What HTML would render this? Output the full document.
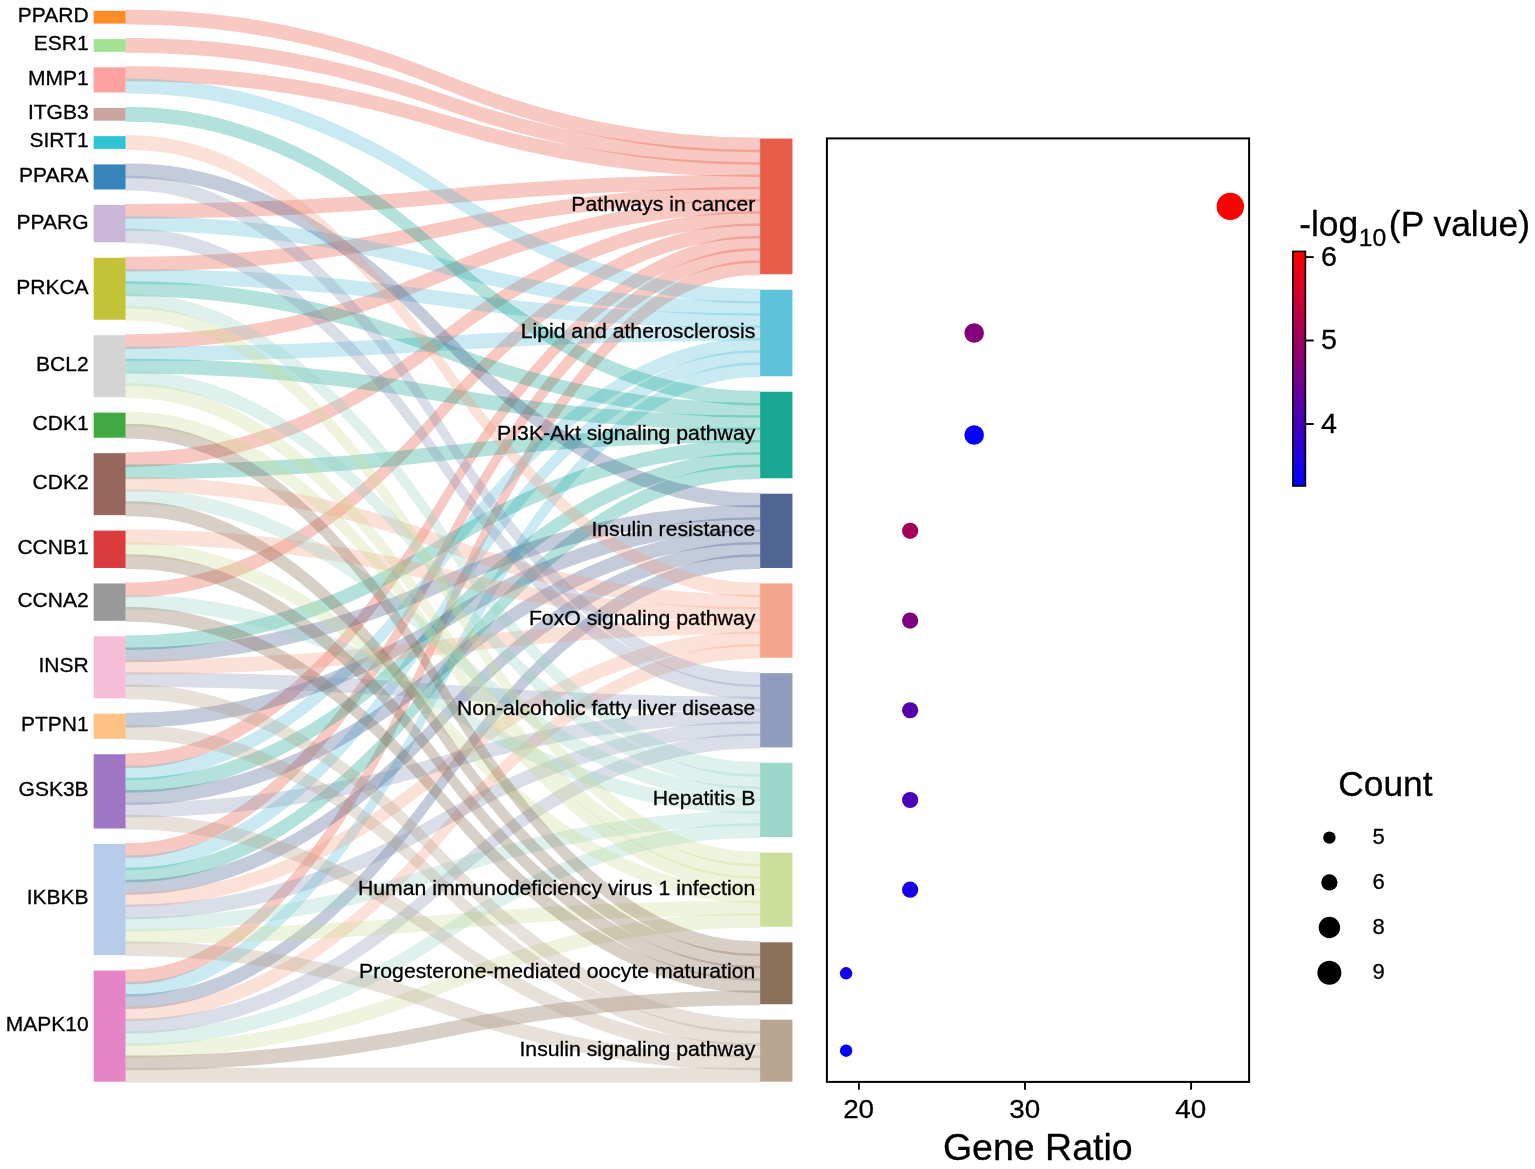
<!DOCTYPE html>
<html lang="en"><head><meta charset="utf-8"><title>Sankey dot plot</title>
<style>html,body{margin:0;padding:0;background:#fff}body{width:1535px;height:1169px;overflow:hidden}svg{display:block}text{font-family:"Liberation Sans",Arial,Helvetica,sans-serif;fill:#000;stroke:#000;stroke-width:.3px;stroke-linejoin:round}</style></head><body>
<svg width="1535" height="1169" viewBox="0 0 1535 1169">
<defs><linearGradient id="cb" x1="0" y1="1" x2="0" y2="0"><stop offset="0" stop-color="#0000ff"/><stop offset="1" stop-color="#ff0000"/></linearGradient><filter id="soft" filterUnits="userSpaceOnUse" x="0" y="0" width="1535" height="1169" color-interpolation-filters="sRGB"><feGaussianBlur stdDeviation="0.55"/></filter><clipPath id="lc"><rect x="125.3" y="0" width="635.1" height="1169"/></clipPath></defs>
<rect x="0" y="0" width="1535" height="1169" fill="#fff"/>
<g filter="url(#soft)">
<g stroke-width="3" stroke-linejoin="round" clip-path="url(#lc)">
<g fill="#E64B35" stroke="#E64B35">
<path opacity="0.3" d="M119.3,11.31H131.65Q287.25,11.31 442.85,75.19Q598.45,139.07 754.05,139.07H766.4V150.87H754.05Q598.45,150.87 442.85,86.99Q287.25,23.11 131.65,23.11H119.3Z"/>
<path opacity="0.3" d="M119.3,39.57H131.65Q287.25,39.57 442.85,95.46Q598.45,151.36 754.05,151.36H766.4V163.16H754.05Q598.45,163.16 442.85,107.26Q287.25,51.37 131.65,51.37H119.3Z"/>
<path opacity="0.3" d="M119.3,67.83H131.65Q287.25,67.83 442.85,115.74Q598.45,163.65 754.05,163.65H766.4V175.45H754.05Q598.45,175.45 442.85,127.54Q287.25,79.63 131.65,79.63H119.3Z"/>
<path opacity="0.3" d="M119.3,205.45H131.65Q287.25,205.45 442.85,190.69Q598.45,175.94 754.05,175.94H766.4V187.74H754.05Q598.45,187.74 442.85,202.49Q287.25,217.25 131.65,217.25H119.3Z"/>
<path opacity="0.3" d="M119.3,258.29H131.65Q287.25,258.29 442.85,223.26Q598.45,188.23 754.05,188.23H766.4V200.03H754.05Q598.45,200.03 442.85,235.06Q287.25,270.09 131.65,270.09H119.3Z"/>
<path opacity="0.3" d="M119.3,335.71H131.65Q287.25,335.71 442.85,268.11Q598.45,200.52 754.05,200.52H766.4V212.32H754.05Q598.45,212.32 442.85,279.91Q287.25,347.51 131.65,347.51H119.3Z"/>
<path opacity="0.3" d="M119.3,453.68H131.65Q287.25,453.68 442.85,333.24Q598.45,212.81 754.05,212.81H766.4V224.61H754.05Q598.45,224.61 442.85,345.04Q287.25,465.48 131.65,465.48H119.3Z"/>
<path opacity="0.3" d="M119.3,583.94H131.65Q287.25,583.94 442.85,404.52Q598.45,225.1 754.05,225.1H766.4V236.9H754.05Q598.45,236.9 442.85,416.32Q287.25,595.74 131.65,595.74H119.3Z"/>
<path opacity="0.3" d="M119.3,754.75H131.65Q287.25,754.75 442.85,496.07Q598.45,237.39 754.05,237.39H766.4V249.19H754.05Q598.45,249.19 442.85,507.87Q287.25,766.55 131.65,766.55H119.3Z"/>
<path opacity="0.3" d="M119.3,844.46H131.65Q287.25,844.46 442.85,547.07Q598.45,249.68 754.05,249.68H766.4V261.48H754.05Q598.45,261.48 442.85,558.87Q287.25,856.26 131.65,856.26H119.3Z"/>
<path opacity="0.3" d="M119.3,971.04H131.65Q287.25,971.04 442.85,616.5Q598.45,261.97 754.05,261.97H766.4V273.77H754.05Q598.45,273.77 442.85,628.3Q287.25,982.84 131.65,982.84H119.3Z"/>
</g>
<g fill="#4DBBD5" stroke="#4DBBD5">
<path opacity="0.3" d="M119.3,80.12H131.65Q287.25,80.12 442.85,185.17Q598.45,290.23 754.05,290.23H766.4V302.03H754.05Q598.45,302.03 442.85,196.97Q287.25,91.92 131.65,91.92H119.3Z"/>
<path opacity="0.3" d="M119.3,217.74H131.65Q287.25,217.74 442.85,260.13Q598.45,302.52 754.05,302.52H766.4V314.32H754.05Q598.45,314.32 442.85,271.93Q287.25,229.54 131.65,229.54H119.3Z"/>
<path opacity="0.3" d="M119.3,270.58H131.65Q287.25,270.58 442.85,292.69Q598.45,314.81 754.05,314.81H766.4V326.61H754.05Q598.45,326.61 442.85,304.49Q287.25,282.38 131.65,282.38H119.3Z"/>
<path opacity="0.3" d="M119.3,348H131.65Q287.25,348 442.85,337.55Q598.45,327.1 754.05,327.1H766.4V338.9H754.05Q598.45,338.9 442.85,349.35Q287.25,359.8 131.65,359.8H119.3Z"/>
<path opacity="0.3" d="M119.3,767.04H131.65Q287.25,767.04 442.85,553.21Q598.45,339.39 754.05,339.39H766.4V351.19H754.05Q598.45,351.19 442.85,565.01Q287.25,778.84 131.65,778.84H119.3Z"/>
<path opacity="0.3" d="M119.3,856.75H131.65Q287.25,856.75 442.85,604.21Q598.45,351.68 754.05,351.68H766.4V363.48H754.05Q598.45,363.48 442.85,616.01Q287.25,868.55 131.65,868.55H119.3Z"/>
<path opacity="0.3" d="M119.3,983.33H131.65Q287.25,983.33 442.85,673.65Q598.45,363.97 754.05,363.97H766.4V375.77H754.05Q598.45,375.77 442.85,685.45Q287.25,995.13 131.65,995.13H119.3Z"/>
</g>
<g fill="#00A087" stroke="#00A087">
<path opacity="0.3" d="M119.3,108.38H131.65Q287.25,108.38 442.85,250.3Q598.45,392.23 754.05,392.23H766.4V404.03H754.05Q598.45,404.03 442.85,262.1Q287.25,120.18 131.65,120.18H119.3Z"/>
<path opacity="0.3" d="M119.3,282.87H131.65Q287.25,282.87 442.85,343.69Q598.45,404.52 754.05,404.52H766.4V416.32H754.05Q598.45,416.32 442.85,355.49Q287.25,294.67 131.65,294.67H119.3Z"/>
<path opacity="0.3" d="M119.3,360.29H131.65Q287.25,360.29 442.85,388.55Q598.45,416.81 754.05,416.81H766.4V428.61H754.05Q598.45,428.61 442.85,400.35Q287.25,372.09 131.65,372.09H119.3Z"/>
<path opacity="0.3" d="M119.3,465.97H131.65Q287.25,465.97 442.85,447.53Q598.45,429.1 754.05,429.1H766.4V440.9H754.05Q598.45,440.9 442.85,459.33Q287.25,477.77 131.65,477.77H119.3Z"/>
<path opacity="0.3" d="M119.3,636.78H131.65Q287.25,636.78 442.85,539.08Q598.45,441.39 754.05,441.39H766.4V453.19H754.05Q598.45,453.19 442.85,550.88Q287.25,648.58 131.65,648.58H119.3Z"/>
<path opacity="0.3" d="M119.3,779.33H131.65Q287.25,779.33 442.85,616.5Q598.45,453.68 754.05,453.68H766.4V465.48H754.05Q598.45,465.48 442.85,628.3Q287.25,791.13 131.65,791.13H119.3Z"/>
<path opacity="0.3" d="M119.3,869.04H131.65Q287.25,869.04 442.85,667.5Q598.45,465.97 754.05,465.97H766.4V477.77H754.05Q598.45,477.77 442.85,679.3Q287.25,880.84 131.65,880.84H119.3Z"/>
</g>
<g fill="#3C5488" stroke="#3C5488">
<path opacity="0.3" d="M119.3,164.9H131.65Q287.25,164.9 442.85,329.56Q598.45,494.23 754.05,494.23H766.4V506.03H754.05Q598.45,506.03 442.85,341.36Q287.25,176.7 131.65,176.7H119.3Z"/>
<path opacity="0.3" d="M119.3,649.07H131.65Q287.25,649.07 442.85,577.79Q598.45,506.52 754.05,506.52H766.4V518.32H754.05Q598.45,518.32 442.85,589.59Q287.25,660.87 131.65,660.87H119.3Z"/>
<path opacity="0.3" d="M119.3,714.2H131.65Q287.25,714.2 442.85,616.5Q598.45,518.81 754.05,518.81H766.4V530.61H754.05Q598.45,530.61 442.85,628.3Q287.25,726 131.65,726H119.3Z"/>
<path opacity="0.3" d="M119.3,791.62H131.65Q287.25,791.62 442.85,661.36Q598.45,531.1 754.05,531.1H766.4V542.9H754.05Q598.45,542.9 442.85,673.16Q287.25,803.42 131.65,803.42H119.3Z"/>
<path opacity="0.3" d="M119.3,881.33H131.65Q287.25,881.33 442.85,712.36Q598.45,543.39 754.05,543.39H766.4V555.19H754.05Q598.45,555.19 442.85,724.16Q287.25,893.13 131.65,893.13H119.3Z"/>
<path opacity="0.3" d="M119.3,995.62H131.65Q287.25,995.62 442.85,775.65Q598.45,555.68 754.05,555.68H766.4V567.48H754.05Q598.45,567.48 442.85,787.45Q287.25,1007.42 131.65,1007.42H119.3Z"/>
</g>
<g fill="#F39B7F" stroke="#F39B7F">
<path opacity="0.3" d="M119.3,136.64H131.65Q287.25,136.64 442.85,360.29Q598.45,583.94 754.05,583.94H766.4V595.74H754.05Q598.45,595.74 442.85,372.09Q287.25,148.44 131.65,148.44H119.3Z"/>
<path opacity="0.3" d="M119.3,478.26H131.65Q287.25,478.26 442.85,537.24Q598.45,596.23 754.05,596.23H766.4V608.03H754.05Q598.45,608.03 442.85,549.04Q287.25,490.06 131.65,490.06H119.3Z"/>
<path opacity="0.3" d="M119.3,531.1H131.65Q287.25,531.1 442.85,569.81Q598.45,608.52 754.05,608.52H766.4V620.32H754.05Q598.45,620.32 442.85,581.61Q287.25,542.9 131.65,542.9H119.3Z"/>
<path opacity="0.3" d="M119.3,661.36H131.65Q287.25,661.36 442.85,641.08Q598.45,620.81 754.05,620.81H766.4V632.61H754.05Q598.45,632.61 442.85,652.88Q287.25,673.16 131.65,673.16H119.3Z"/>
<path opacity="0.3" d="M119.3,893.62H131.65Q287.25,893.62 442.85,763.36Q598.45,633.1 754.05,633.1H766.4V644.9H754.05Q598.45,644.9 442.85,775.16Q287.25,905.42 131.65,905.42H119.3Z"/>
<path opacity="0.3" d="M119.3,1007.91H131.65Q287.25,1007.91 442.85,826.65Q598.45,645.39 754.05,645.39H766.4V657.19H754.05Q598.45,657.19 442.85,838.45Q287.25,1019.71 131.65,1019.71H119.3Z"/>
</g>
<g fill="#8491B4" stroke="#8491B4">
<path opacity="0.3" d="M119.3,177.19H131.65Q287.25,177.19 442.85,425.42Q598.45,673.65 754.05,673.65H766.4V685.45H754.05Q598.45,685.45 442.85,437.22Q287.25,188.99 131.65,188.99H119.3Z"/>
<path opacity="0.3" d="M119.3,230.03H131.65Q287.25,230.03 442.85,457.98Q598.45,685.94 754.05,685.94H766.4V697.74H754.05Q598.45,697.74 442.85,469.78Q287.25,241.83 131.65,241.83H119.3Z"/>
<path opacity="0.3" d="M119.3,673.65H131.65Q287.25,673.65 442.85,685.94Q598.45,698.23 754.05,698.23H766.4V710.03H754.05Q598.45,710.03 442.85,697.74Q287.25,685.45 131.65,685.45H119.3Z"/>
<path opacity="0.3" d="M119.3,803.91H131.65Q287.25,803.91 442.85,757.21Q598.45,710.52 754.05,710.52H766.4V722.32H754.05Q598.45,722.32 442.85,769.01Q287.25,815.71 131.65,815.71H119.3Z"/>
<path opacity="0.3" d="M119.3,905.91H131.65Q287.25,905.91 442.85,814.36Q598.45,722.81 754.05,722.81H766.4V734.61H754.05Q598.45,734.61 442.85,826.16Q287.25,917.71 131.65,917.71H119.3Z"/>
<path opacity="0.3" d="M119.3,1020.2H131.65Q287.25,1020.2 442.85,877.65Q598.45,735.1 754.05,735.1H766.4V746.9H754.05Q598.45,746.9 442.85,889.45Q287.25,1032 131.65,1032H119.3Z"/>
</g>
<g fill="#91D1C2" stroke="#91D1C2">
<path opacity="0.3" d="M119.3,295.16H131.65Q287.25,295.16 442.85,529.26Q598.45,763.36 754.05,763.36H766.4V775.16H754.05Q598.45,775.16 442.85,541.06Q287.25,306.96 131.65,306.96H119.3Z"/>
<path opacity="0.3" d="M119.3,372.58H131.65Q287.25,372.58 442.85,574.11Q598.45,775.65 754.05,775.65H766.4V787.45H754.05Q598.45,787.45 442.85,585.91Q287.25,384.38 131.65,384.38H119.3Z"/>
<path opacity="0.3" d="M119.3,490.55H131.65Q287.25,490.55 442.85,639.24Q598.45,787.94 754.05,787.94H766.4V799.74H754.05Q598.45,799.74 442.85,651.04Q287.25,502.35 131.65,502.35H119.3Z"/>
<path opacity="0.3" d="M119.3,596.23H131.65Q287.25,596.23 442.85,698.23Q598.45,800.23 754.05,800.23H766.4V812.03H754.05Q598.45,812.03 442.85,710.03Q287.25,608.03 131.65,608.03H119.3Z"/>
<path opacity="0.3" d="M119.3,918.2H131.65Q287.25,918.2 442.85,865.36Q598.45,812.52 754.05,812.52H766.4V824.32H754.05Q598.45,824.32 442.85,877.16Q287.25,930 131.65,930H119.3Z"/>
<path opacity="0.3" d="M119.3,1032.49H131.65Q287.25,1032.49 442.85,928.65Q598.45,824.81 754.05,824.81H766.4V836.61H754.05Q598.45,836.61 442.85,940.45Q287.25,1044.29 131.65,1044.29H119.3Z"/>
</g>
<g fill="#C7DB8F" stroke="#C7DB8F">
<path opacity="0.3" d="M119.3,307.45H131.65Q287.25,307.45 442.85,580.26Q598.45,853.07 754.05,853.07H766.4V864.87H754.05Q598.45,864.87 442.85,592.06Q287.25,319.25 131.65,319.25H119.3Z"/>
<path opacity="0.3" d="M119.3,384.87H131.65Q287.25,384.87 442.85,625.11Q598.45,865.36 754.05,865.36H766.4V877.16H754.05Q598.45,877.16 442.85,636.91Q287.25,396.67 131.65,396.67H119.3Z"/>
<path opacity="0.3" d="M119.3,413.13H131.65Q287.25,413.13 442.85,645.39Q598.45,877.65 754.05,877.65H766.4V889.45H754.05Q598.45,889.45 442.85,657.19Q287.25,424.93 131.65,424.93H119.3Z"/>
<path opacity="0.3" d="M119.3,543.39H131.65Q287.25,543.39 442.85,716.66Q598.45,889.94 754.05,889.94H766.4V901.74H754.05Q598.45,901.74 442.85,728.46Q287.25,555.19 131.65,555.19H119.3Z"/>
<path opacity="0.3" d="M119.3,930.49H131.65Q287.25,930.49 442.85,916.36Q598.45,902.23 754.05,902.23H766.4V914.03H754.05Q598.45,914.03 442.85,928.16Q287.25,942.29 131.65,942.29H119.3Z"/>
<path opacity="0.3" d="M119.3,1044.78H131.65Q287.25,1044.78 442.85,979.65Q598.45,914.52 754.05,914.52H766.4V926.32H754.05Q598.45,926.32 442.85,991.45Q287.25,1056.58 131.65,1056.58H119.3Z"/>
</g>
<g fill="#7E6148" stroke="#7E6148">
<path opacity="0.3" d="M119.3,425.42H131.65Q287.25,425.42 442.85,684.1Q598.45,942.78 754.05,942.78H766.4V954.58H754.05Q598.45,954.58 442.85,695.9Q287.25,437.22 131.65,437.22H119.3Z"/>
<path opacity="0.3" d="M119.3,502.84H131.65Q287.25,502.84 442.85,728.95Q598.45,955.07 754.05,955.07H766.4V966.87H754.05Q598.45,966.87 442.85,740.75Q287.25,514.64 131.65,514.64H119.3Z"/>
<path opacity="0.3" d="M119.3,555.68H131.65Q287.25,555.68 442.85,761.52Q598.45,967.36 754.05,967.36H766.4V979.16H754.05Q598.45,979.16 442.85,773.32Q287.25,567.48 131.65,567.48H119.3Z"/>
<path opacity="0.3" d="M119.3,608.52H131.65Q287.25,608.52 442.85,794.08Q598.45,979.65 754.05,979.65H766.4V991.45H754.05Q598.45,991.45 442.85,805.88Q287.25,620.32 131.65,620.32H119.3Z"/>
<path opacity="0.3" d="M119.3,1057.07H131.65Q287.25,1057.07 442.85,1024.5Q598.45,991.94 754.05,991.94H766.4V1003.74H754.05Q598.45,1003.74 442.85,1036.3Q287.25,1068.87 131.65,1068.87H119.3Z"/>
</g>
<g fill="#B09C85" stroke="#B09C85">
<path opacity="0.3" d="M119.3,685.94H131.65Q287.25,685.94 442.85,853.07Q598.45,1020.2 754.05,1020.2H766.4V1032H754.05Q598.45,1032 442.85,864.87Q287.25,697.74 131.65,697.74H119.3Z"/>
<path opacity="0.3" d="M119.3,726.49H131.65Q287.25,726.49 442.85,879.49Q598.45,1032.49 754.05,1032.49H766.4V1044.29H754.05Q598.45,1044.29 442.85,891.29Q287.25,738.29 131.65,738.29H119.3Z"/>
<path opacity="0.3" d="M119.3,816.2H131.65Q287.25,816.2 442.85,930.49Q598.45,1044.78 754.05,1044.78H766.4V1056.58H754.05Q598.45,1056.58 442.85,942.29Q287.25,828 131.65,828H119.3Z"/>
<path opacity="0.3" d="M119.3,942.78H131.65Q287.25,942.78 442.85,999.92Q598.45,1057.07 754.05,1057.07H766.4V1068.87H754.05Q598.45,1068.87 442.85,1011.72Q287.25,954.58 131.65,954.58H119.3Z"/>
<path opacity="0.3" d="M119.3,1069.36H131.65Q287.25,1069.36 442.85,1069.36Q598.45,1069.36 754.05,1069.36H766.4V1081.16H754.05Q598.45,1081.16 442.85,1081.16Q287.25,1081.16 131.65,1081.16H119.3Z"/>
</g>
</g>
<g fill-opacity="0.9">
<rect x="93.65" y="10.81" width="31.9" height="12.79" fill="#FF7F0E"/>
<rect x="93.65" y="39.07" width="31.9" height="12.79" fill="#98DF8A"/>
<rect x="93.65" y="67.33" width="31.9" height="25.08" fill="#FF9896"/>
<rect x="93.65" y="107.88" width="31.9" height="12.79" fill="#C49C94"/>
<rect x="93.65" y="136.14" width="31.9" height="12.79" fill="#17BECF"/>
<rect x="93.65" y="164.4" width="31.9" height="25.08" fill="#1F77B4"/>
<rect x="93.65" y="204.95" width="31.9" height="37.37" fill="#C5B0D5"/>
<rect x="93.65" y="257.79" width="31.9" height="61.95" fill="#BCBD22"/>
<rect x="93.65" y="335.21" width="31.9" height="61.95" fill="#CFCFCF"/>
<rect x="93.65" y="412.63" width="31.9" height="25.08" fill="#2CA02C"/>
<rect x="93.65" y="453.18" width="31.9" height="61.95" fill="#8C564B"/>
<rect x="93.65" y="530.6" width="31.9" height="37.37" fill="#D62728"/>
<rect x="93.65" y="583.44" width="31.9" height="37.37" fill="#8E8E8E"/>
<rect x="93.65" y="636.28" width="31.9" height="61.95" fill="#F7B6D2"/>
<rect x="93.65" y="713.7" width="31.9" height="25.08" fill="#FFBB78"/>
<rect x="93.65" y="754.25" width="31.9" height="74.24" fill="#9467BD"/>
<rect x="93.65" y="843.96" width="31.9" height="111.11" fill="#AEC7E8"/>
<rect x="93.65" y="970.54" width="31.9" height="111.11" fill="#E377C2"/>
<rect x="760.15" y="138.57" width="32.3" height="135.69" fill="#E64B35"/>
<rect x="760.15" y="289.73" width="32.3" height="86.53" fill="#4DBBD5"/>
<rect x="760.15" y="391.73" width="32.3" height="86.53" fill="#00A087"/>
<rect x="760.15" y="493.73" width="32.3" height="74.24" fill="#3C5488"/>
<rect x="760.15" y="583.44" width="32.3" height="74.24" fill="#F39B7F"/>
<rect x="760.15" y="673.15" width="32.3" height="74.24" fill="#8491B4"/>
<rect x="760.15" y="762.86" width="32.3" height="74.24" fill="#91D1C2"/>
<rect x="760.15" y="852.57" width="32.3" height="74.24" fill="#C7DB8F"/>
<rect x="760.15" y="942.28" width="32.3" height="61.95" fill="#7E6148"/>
<rect x="760.15" y="1019.7" width="32.3" height="61.95" fill="#B09C85"/>
</g>
<g font-size="20.6" text-anchor="end">
<text transform="translate(88.6,22.11) scale(1.02,1)">PPARD</text>
<text transform="translate(88.6,50.37) scale(1.02,1)">ESR1</text>
<text transform="translate(88.6,84.77) scale(1.02,1)">MMP1</text>
<text transform="translate(88.6,119.18) scale(1.02,1)">ITGB3</text>
<text transform="translate(88.6,147.44) scale(1.02,1)">SIRT1</text>
<text transform="translate(88.6,181.84) scale(1.02,1)">PPARA</text>
<text transform="translate(88.6,228.54) scale(1.02,1)">PPARG</text>
<text transform="translate(88.6,293.67) scale(1.02,1)">PRKCA</text>
<text transform="translate(88.6,371.09) scale(1.02,1)">BCL2</text>
<text transform="translate(88.6,430.07) scale(1.02,1)">CDK1</text>
<text transform="translate(88.6,489.06) scale(1.02,1)">CDK2</text>
<text transform="translate(88.6,554.19) scale(1.02,1)">CCNB1</text>
<text transform="translate(88.6,607.03) scale(1.02,1)">CCNA2</text>
<text transform="translate(88.6,672.16) scale(1.02,1)">INSR</text>
<text transform="translate(88.6,731.14) scale(1.02,1)">PTPN1</text>
<text transform="translate(88.6,796.27) scale(1.02,1)">GSK3B</text>
<text transform="translate(88.6,904.42) scale(1.02,1)">IKBKB</text>
<text transform="translate(88.6,1031) scale(1.02,1)">MAPK10</text>
<text transform="translate(755.3,211.32) scale(1.03,1)">Pathways in cancer</text>
<text transform="translate(755.3,337.9) scale(1.03,1)">Lipid and atherosclerosis</text>
<text transform="translate(755.3,439.9) scale(1.03,1)">PI3K-Akt signaling pathway</text>
<text transform="translate(755.3,535.75) scale(1.03,1)">Insulin resistance</text>
<text transform="translate(755.3,625.46) scale(1.03,1)">FoxO signaling pathway</text>
<text transform="translate(755.3,715.17) scale(1.03,1)">Non-alcoholic fatty liver disease</text>
<text transform="translate(755.3,804.88) scale(1.03,1)">Hepatitis B</text>
<text transform="translate(755.3,894.59) scale(1.03,1)">Human immunodeficiency virus 1 infection</text>
<text transform="translate(755.3,978.16) scale(1.03,1)">Progesterone-mediated oocyte maturation</text>
<text transform="translate(755.3,1055.58) scale(1.03,1)">Insulin signaling pathway</text>
</g>
<rect x="826.9" y="138.4" width="422.2" height="943.5" fill="none" stroke="#000" stroke-width="2"/>
<line x1="858.9" y1="1081.9" x2="858.9" y2="1089.7" stroke="#000" stroke-width="1.9"/>
<text transform="translate(858.6,1117.6) scale(1.05,1)" font-size="26.5" text-anchor="middle">20</text>
<line x1="1025" y1="1081.9" x2="1025" y2="1089.7" stroke="#000" stroke-width="1.9"/>
<text transform="translate(1024.7,1117.6) scale(1.05,1)" font-size="26.5" text-anchor="middle">30</text>
<line x1="1191.1" y1="1081.9" x2="1191.1" y2="1089.7" stroke="#000" stroke-width="1.9"/>
<text transform="translate(1190.8,1117.6) scale(1.05,1)" font-size="26.5" text-anchor="middle">40</text>
<text transform="translate(1037.8,1159.6) scale(1.028,1)" font-size="36.5" text-anchor="middle">Gene Ratio</text>
<circle cx="1230.32" cy="206.42" r="13.7" fill="#ff0000"/>
<circle cx="974.17" cy="333" r="9.8" fill="#85007a"/>
<circle cx="974.17" cy="435" r="9.8" fill="#0500fa"/>
<circle cx="910.13" cy="530.85" r="8.1" fill="#a5005a"/>
<circle cx="910.13" cy="620.56" r="8.1" fill="#7f0080"/>
<circle cx="910.13" cy="710.27" r="8.1" fill="#5600a9"/>
<circle cx="910.13" cy="799.98" r="8.1" fill="#4900b6"/>
<circle cx="910.13" cy="889.69" r="8.1" fill="#1700e8"/>
<circle cx="846.09" cy="973.26" r="6.2" fill="#1200ed"/>
<circle cx="846.09" cy="1050.68" r="6.2" fill="#0000ff"/>
<rect x="1292.9" y="251.4" width="12.5" height="234.6" fill="url(#cb)" stroke="#000" stroke-width="1.6"/>
<line x1="1305.4" y1="257.1" x2="1313.7" y2="257.1" stroke="#000" stroke-width="1.9"/>
<text transform="translate(1328.9,265.7) scale(1.05,1)" font-size="27.3" text-anchor="middle">6</text>
<line x1="1305.4" y1="340.5" x2="1313.7" y2="340.5" stroke="#000" stroke-width="1.9"/>
<text transform="translate(1328.9,349.1) scale(1.05,1)" font-size="27.3" text-anchor="middle">5</text>
<line x1="1305.4" y1="424" x2="1313.7" y2="424" stroke="#000" stroke-width="1.9"/>
<text transform="translate(1328.9,432.6) scale(1.05,1)" font-size="27.3" text-anchor="middle">4</text>
<text transform="translate(1299.2,235.6) scale(1.015,1)" font-size="34.9">-log<tspan font-size="24.4" dy="10.7" dx="0.5">10</tspan><tspan dy="-10.7" dx="2.5">(P value)</tspan></text>
<text x="1385.4" y="795.6" font-size="35.3" text-anchor="middle">Count</text>
<circle cx="1329.4" cy="837.6" r="6.2" fill="#000"/>
<text x="1372.5" y="843.8" font-size="22">5</text>
<circle cx="1329.4" cy="882.4" r="8.1" fill="#000"/>
<text x="1372.5" y="888.6" font-size="22">6</text>
<circle cx="1329.4" cy="927.5" r="10.7" fill="#000"/>
<text x="1372.5" y="933.7" font-size="22">8</text>
<circle cx="1329.4" cy="972.8" r="12" fill="#000"/>
<text x="1372.5" y="979" font-size="22">9</text>
</g>
</svg></body></html>
